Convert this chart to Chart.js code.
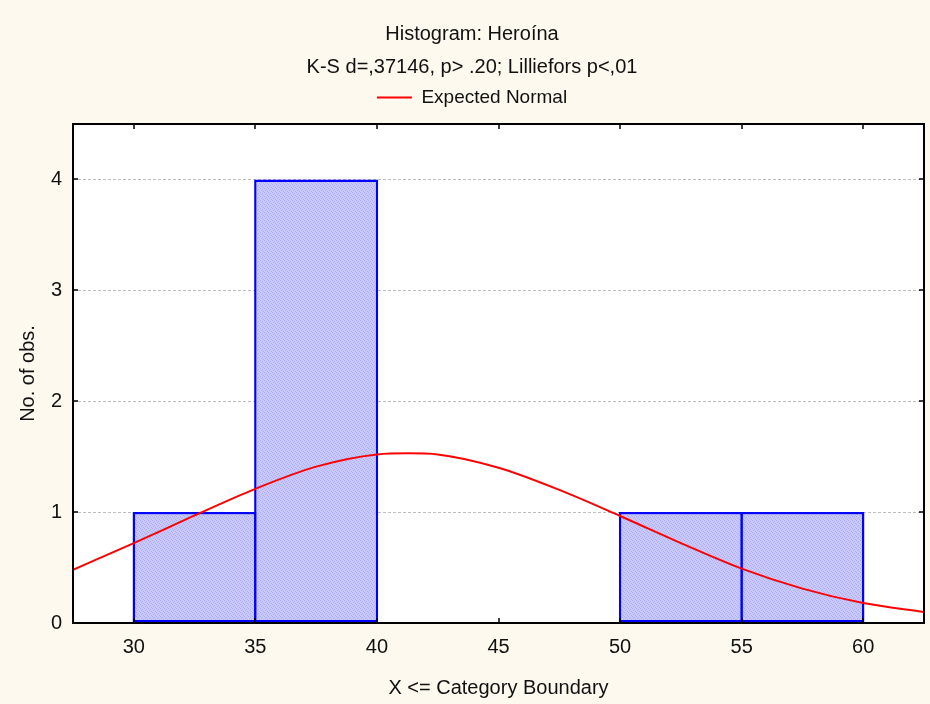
<!DOCTYPE html>
<html>
<head>
<meta charset="utf-8">
<script src="https://cdn.jsdelivr.net/npm/chart.js@4.4.1/dist/chart.umd.min.js"></script>
<style>
  html, body { margin: 0; padding: 0; background: #fdf9ee; }
  #wrap { width: 930px; height: 704px; }
</style>
</head>
<body>
<div id="wrap"><canvas id="chart01"></canvas></div>
<script>
// histogram bins (upper boundary category) and counts
const binCenters = [32.5, 37.5, 42.5, 47.5, 52.5, 57.5];
const binCounts = [1, 4, 0, 0, 1, 1];

// expected normal curve
const normalX = [27.5, 30, 32.5, 35, 37.5, 40, 41.3, 42.5, 45, 47.5, 50, 52.5, 55, 57.5, 60, 62.5];
const normalY = [0.48, 0.72, 0.97, 1.21, 1.41, 1.52, 1.53, 1.52, 1.40, 1.20, 0.965, 0.72, 0.49, 0.31, 0.18, 0.10];

const xTicks = [30, 35, 40, 45, 50, 55, 60];
const yTicks = [0, 1, 2, 3, 4];
const xRange = [27.5, 62.5];
const yRange = [0, 4.5];

Chart.defaults.font.family = "'Liberation Sans', Arial, sans-serif";
Chart.defaults.color = '#111';

// fine hatch fill like the original bars
const pc = document.createElement('canvas');
pc.width = 4; pc.height = 4;
const g = pc.getContext('2d');
g.fillStyle = '#c9c9fc';
g.fillRect(0, 0, 4, 4);
g.fillStyle = '#acacf2';
[[0, 0], [2, 1], [1, 2], [3, 3]].forEach(p => g.fillRect(p[0], p[1], 1, 1));
const hatch = g.createPattern(pc, 'repeat');

const framePlugin = {
    id: 'frame',
    beforeDraw(chart) {
        const {ctx, chartArea: a} = chart;
        ctx.save();
        ctx.fillStyle = '#fff';
        ctx.fillRect(a.left, a.top, a.right - a.left, a.bottom - a.top);
        ctx.restore();
    },
    afterDatasetsDraw(chart) {
        const {ctx, chartArea: a, scales: {x, y}} = chart;
        ctx.save();
        ctx.strokeStyle = '#000';
        ctx.lineWidth = 2;
        ctx.strokeRect(a.left, a.top, a.right - a.left, a.bottom - a.top);
        ctx.lineWidth = 1.5;
        ctx.beginPath();
        for (const v of xTicks) {
            const px = Math.round(x.getPixelForValue(v));
            ctx.moveTo(px, a.bottom); ctx.lineTo(px, a.bottom - 5);
            ctx.moveTo(px, a.top); ctx.lineTo(px, a.top + 5);
        }
        for (const v of yTicks) {
            const py = Math.round(y.getPixelForValue(v));
            ctx.moveTo(a.left, py); ctx.lineTo(a.left + 5, py);
            ctx.moveTo(a.right, py); ctx.lineTo(a.right - 5, py);
        }
        ctx.stroke();
        ctx.restore();
    }
};

const chart01 = document.getElementById('chart01').getContext('2d');

const myChart = new Chart(chart01, {
    type: 'bar',
    data: {
        datasets: [{
            type: 'line',
            label: 'Expected Normal',
            data: normalX.map((v, i) => ({x: v, y: normalY[i]})),
            borderColor: '#ff0000',
            backgroundColor: '#ff0000',
            borderWidth: 2,
            pointRadius: 0,
            cubicInterpolationMode: 'monotone',
            fill: false,
            order: 1
        }, {
            type: 'bar',
            label: 'Heroína',
            data: binCenters.map((v, i) => ({x: v, y: binCounts[i]})),
            backgroundColor: hatch,
            borderColor: '#0000ff',
            borderWidth: 2.5,
            borderSkipped: false,
            inflateAmount: 0,
            barPercentage: 1.0205,
            categoryPercentage: 1,
            order: 2
        }]
    },
    options: {
        responsive: true,
        maintainAspectRatio: false,
        animation: false,
        layout: {padding: {left: 14, right: 0, top: 0, bottom: 0}},
        plugins: {
            title: {
                display: true,
                text: 'Histogram: Heroína',
                font: {size: 20, weight: 'normal', lineHeight: 1.2},
                color: '#111',
                padding: {top: 22, bottom: 9}
            },
            subtitle: {
                display: true,
                text: 'K-S d=,37146, p> .20; Lilliefors p<,01',
                font: {size: 20, weight: 'normal', lineHeight: 1.2},
                color: '#111',
                padding: {top: 0, bottom: 0}
            },
            legend: {
                labels: {
                    usePointStyle: true,
                    pointStyle: 'line',
                    pointStyleWidth: 35,
                    padding: 9,
                    font: {size: 19},
                    color: '#111',
                    filter: item => item.datasetIndex === 0
                }
            },
            tooltip: {enabled: false}
        },
        scales: {
            x: {
                type: 'linear',
                offset: false,
                min: xRange[0],
                max: xRange[1],
                afterBuildTicks: s => { s.ticks = xTicks.map(v => ({value: v})); },
                ticks: {padding: 12, font: {size: 20}, color: '#111'},
                grid: {display: false, drawTicks: false, offset: false},
                border: {display: false},
                title: {display: true, text: 'X <= Category Boundary', font: {size: 20}, color: '#111', padding: {top: 0, bottom: 4}},
                afterFit: s => { s.height = 81; }
            },
            x2: {
                type: 'linear',
                position: 'top',
                offset: false,
                min: xRange[0],
                max: xRange[1],
                ticks: {display: false},
                grid: {display: false, drawTicks: false},
                border: {display: false},
                afterFit: s => { s.height = 7; }
            },
            y: {
                type: 'linear',
                min: yRange[0],
                max: yRange[1],
                afterBuildTicks: s => { s.ticks = yTicks.map(v => ({value: v})); },
                ticks: {padding: 11, font: {size: 20}, color: '#111'},
                grid: {color: '#bdbdbd', lineWidth: 1, drawTicks: false},
                border: {display: false, dash: [3, 2]},
                title: {display: true, text: 'No. of obs.', font: {size: 20}, color: '#111', padding: {top: 2, bottom: 0}},
                afterFit: s => { s.width = 59; }
            },
            y2: {
                type: 'linear',
                position: 'right',
                min: yRange[0],
                max: yRange[1],
                ticks: {display: false},
                grid: {display: false, drawTicks: false},
                border: {display: false},
                afterFit: s => { s.width = 6; }
            }
        }
    },
    plugins: [framePlugin]
});
</script>
</body>
</html>
